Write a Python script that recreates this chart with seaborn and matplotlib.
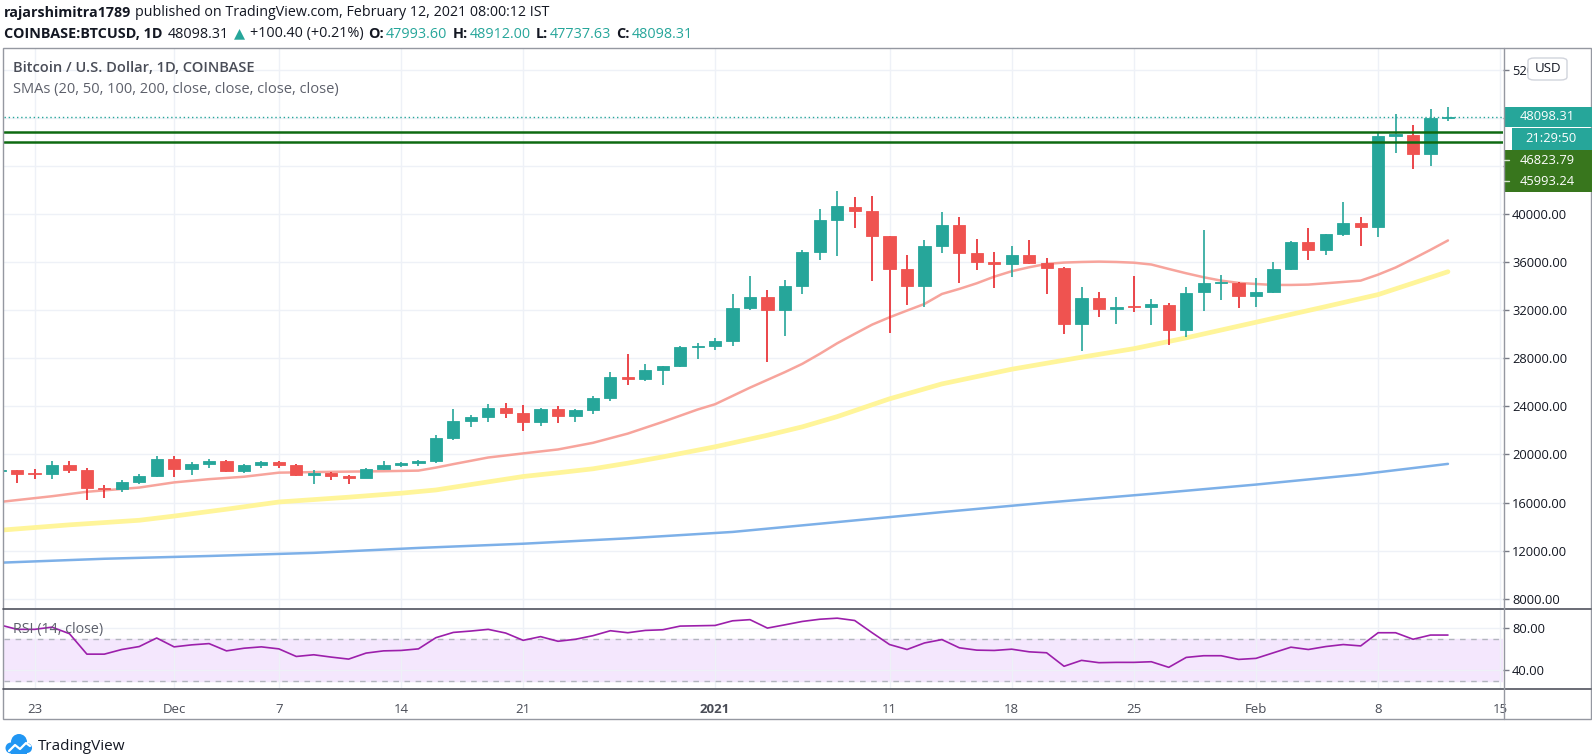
import numpy as np
import pandas as pd
import matplotlib
matplotlib.use("Agg")
import matplotlib.pyplot as plt
from matplotlib.patches import Rectangle, FancyBboxPatch, Circle
from matplotlib.lines import Line2D
from matplotlib.transforms import Affine2D
import seaborn as sns

W, H = 1592, 756

## DATA
dates = pd.date_range("2020-11-21", "2021-02-12", freq="D")

opens = [18650, 18685, 18410, 18370, 19150, 18690, 17190, 17130, 17720, 18190,
         19650, 18770, 19210, 19430, 18630, 19150, 19350, 19140, 18270, 18490,
         18240, 18030, 18770, 19130, 19270, 19430, 21340, 22780, 23110, 23840,
         23490, 22710, 23820, 23240, 23730, 24700, 26470, 26250, 27030, 27360,
         28910, 29020, 29410, 32200, 33090, 32010, 34020, 36820, 39470, 40610,
         40220, 38140, 35460, 34020, 37370, 39110, 36730, 36010, 35820, 36590,
         35900, 35490, 30830, 32990, 32090, 32290, 32250, 32470, 30370, 33480,
         34240, 34270, 33150, 33510, 35460, 37660, 37020, 38300, 39250, 38910,
         46500, 46570, 44950, 47993.60]
highs = [18830, 18750, 18760, 19430, 19500, 18880, 17470, 17900, 18350, 19850,
         19850, 19380, 19600, 19570, 19180, 19430, 19420, 19240, 18680, 18560,
         18290, 18910, 19430, 19350, 19570, 21590, 23780, 23310, 24170, 24290,
         24100, 23830, 24070, 23790, 24840, 26830, 28380, 27500, 27360, 29020,
         29300, 29710, 33310, 34830, 33640, 34470, 37010, 40420, 41940, 41440,
         41470, 38150, 36590, 37870, 40140, 39720, 37950, 36870, 37370, 37870,
         36340, 35620, 33910, 33490, 33130, 34850, 32940, 32560, 33960, 38690,
         34930, 34350, 34680, 36020, 37720, 38800, 38360, 41030, 39750, 46850,
         48300, 47400, 48710, 48912.00]
lows = [18350, 17600, 18000, 17970, 18490, 16200, 16400, 16880, 17520, 18170,
        18130, 18300, 18850, 18550, 18460, 18850, 18900, 18190, 17580, 17860,
        17550, 18010, 18690, 18950, 19060, 19300, 21230, 22280, 22730, 23070,
        21940, 22350, 22600, 22710, 23400, 24460, 25760, 26110, 25810, 27280,
        27970, 28710, 29050, 32030, 27660, 29880, 33350, 36200, 36540, 38810,
        34400, 30080, 32470, 32300, 36730, 34240, 35350, 33820, 34740, 35880,
        33350, 30000, 28640, 31410, 30890, 31880, 30800, 29110, 29780, 31950,
        32850, 32180, 32290, 33400, 35380, 36160, 36600, 38200, 37380, 38080,
        45100, 43730, 43980, 47737.63]
closes = [18690, 18410, 18370, 19120, 18690, 17190, 17110, 17690, 18190, 19650,
          18770, 19190, 19430, 18610, 19130, 19350, 19160, 18270, 18460, 18240,
          18030, 18770, 19100, 19270, 19430, 21340, 22780, 23110, 23840, 23490,
          22710, 23820, 23240, 23680, 24730, 26420, 26250, 27000, 27360, 28910,
          29020, 29410, 32200, 33090, 32010, 34020, 36820, 39470, 40690, 40220,
          38140, 35460, 34020, 37370, 39110, 36730, 36010, 35820, 36590, 35900,
          35490, 30830, 32990, 32080, 32260, 32250, 32490, 30370, 33460, 34270,
          34320, 33150, 33510, 35460, 37660, 37020, 38300, 39250, 38910, 46490,
          46630, 44950, 47998, 48098.31]

sma20_dates = ["2020-11-21", "2020-11-24", "2020-11-26", "2020-11-29", "2020-12-01",
               "2020-12-03", "2020-12-05", "2020-12-07", "2020-12-10", "2020-12-13",
               "2020-12-15", "2020-12-16", "2020-12-17", "2020-12-19", "2020-12-21",
               "2020-12-23", "2020-12-25", "2020-12-27", "2020-12-29", "2020-12-31",
               "2021-01-01", "2021-01-03", "2021-01-05", "2021-01-06", "2021-01-07",
               "2021-01-08", "2021-01-09", "2021-01-10", "2021-01-11", "2021-01-12",
               "2021-01-13", "2021-01-14", "2021-01-15", "2021-01-16", "2021-01-17",
               "2021-01-18", "2021-01-19", "2021-01-20", "2021-01-21", "2021-01-22",
               "2021-01-23", "2021-01-24", "2021-01-25", "2021-01-26", "2021-01-27",
               "2021-01-28", "2021-01-29", "2021-01-30", "2021-01-31", "2021-02-01",
               "2021-02-02", "2021-02-03", "2021-02-04", "2021-02-05", "2021-02-06",
               "2021-02-07", "2021-02-08", "2021-02-09", "2021-02-10", "2021-02-11",
               "2021-02-12"]
sma20 = [16050, 16530, 16900, 17250, 17680, 17950, 18150, 18490, 18560, 18610,
         18660, 18910, 19200, 19750, 20090, 20420, 20970, 21740, 22710, 23740,
         24180, 25560, 26850, 27540, 28370, 29250, 30030, 30800, 31410, 31970,
         32520, 33350, 33770, 34240, 34790, 35240, 35570, 35850, 35960, 36010,
         36040, 36010, 35950, 35800, 35430, 35070, 34740, 34460, 34270, 34180,
         34100, 34100, 34130, 34240, 34350, 34460, 34960, 35550, 36270, 37020,
         37800]

sma50_dates = ["2020-11-21", "2020-11-25", "2020-11-29", "2020-12-01", "2020-12-04",
               "2020-12-07", "2020-12-11", "2020-12-14", "2020-12-16", "2020-12-18",
               "2020-12-21", "2020-12-23", "2020-12-25", "2020-12-27", "2020-12-29",
               "2021-01-01", "2021-01-04", "2021-01-06", "2021-01-08", "2021-01-11",
               "2021-01-14", "2021-01-18", "2021-01-22", "2021-01-25", "2021-01-28",
               "2021-02-01", "2021-02-05", "2021-02-08", "2021-02-12"]
sma50 = [13700, 14150, 14530, 14880, 15450, 16050, 16450, 16780, 17050, 17500,
         18170, 18480, 18810, 19280, 19800, 20640, 21600, 22300, 23150, 24630,
         25870, 27090, 28090, 28800, 29700, 31000, 32300, 33300, 35200]

sma200_dates = ["2020-11-21", "2020-11-27", "2020-12-03", "2020-12-09", "2020-12-15",
                "2020-12-21", "2020-12-27", "2021-01-02", "2021-01-08", "2021-01-14",
                "2021-01-20", "2021-01-26", "2021-02-01", "2021-02-07", "2021-02-12"]
sma200 = [11000, 11330, 11560, 11820, 12230, 12580, 13030, 13560, 14380, 15210,
          16000, 16730, 17500, 18350, 19220]

rsi = [83.1, 78.8, 78.8, 80.9, 74.7, 55.3, 55.3, 59.7, 62.5, 70.6,
       62.2, 64.1, 65.3, 58.4, 60.9, 62.2, 60.3, 53.1, 54.7, 52.5,
       50.6, 56.3, 58.4, 58.8, 60.3, 70.9, 75.9, 77.2, 78.8, 75.3,
       68.4, 71.9, 67.5, 69.4, 72.8, 77.5, 75.6, 77.8, 78.4, 81.9,
       82.2, 82.5, 86.9, 88.0, 80.0, 83.1, 86.3, 88.4, 89.4, 87.2,
       75.6, 64.4, 59.7, 65.9, 69.1, 61.3, 59.1, 58.8, 60.0, 57.5,
       56.6, 43.8, 49.4, 47.2, 47.5, 47.5, 48.1, 42.8, 52.2, 53.8,
       53.8, 50.3, 51.3, 56.6, 61.9, 59.7, 62.5, 64.4, 63.1, 75.6,
       75.6, 69.4, 73.4, 73.4]

level_lines = [46823.79, 45993.24]
last_price = 48098.31

tick_dates = ["2020-11-23", "2020-12-01", "2020-12-07", "2020-12-14", "2020-12-21",
              "2021-01-01", "2021-01-11", "2021-01-18", "2021-01-25", "2021-02-01",
              "2021-02-08", "2021-02-15"]
tick_labels = ["23", "Dec", "7", "14", "21", "2021", "11", "18", "25", "Feb", "8", "15"]
price_ticks = list(range(8000, 52001, 4000))
hidden_price_ticks = [44000, 48000]

## STYLE
sns.set_style("white")
plt.rcParams["font.family"] = ["Open Sans", "DejaVu Sans"]

GREEN = "#26a69a"
RED = "#ef5350"
TXT = "#131722"
GRID = "#eef1f7"
AXR = 1503  # x of the price scale border, in pixels
LBL = 9.3

df = pd.DataFrame({"date": dates, "open": opens, "high": highs, "low": lows, "close": closes})
df["up"] = df["close"] >= df["open"]

fig = plt.figure(figsize=(W / 100, H / 100), dpi=100)
ax = fig.add_axes([4 / W, 1 - 608 / H, (AXR - 4) / W, (608 - 49) / H])
ax2 = fig.add_axes([4 / W, 1 - 688 / H, (AXR - 4) / W, (688 - 609) / H], sharex=ax)

for a in (ax, ax2):
    for s in a.spines.values():
        s.set_visible(False)
    a.set_axisbelow(True)
    a.grid(True, color=GRID, lw=1)

# candles
body_lo = df[["open", "close"]].min(axis=1)
body_h = (df["close"] - df["open"]).abs().clip(lower=60)
colors = np.where(df["up"], GREEN, RED)
wick_colors = np.where(df["up"], GREEN, "#e8262b")
ax.vlines(df["date"], df["low"], df["high"], colors=wick_colors, lw=1.2, zorder=3)
ax.bar(df["date"], body_h, bottom=body_lo, width=0.7, color=colors,
       edgecolor=colors, lw=0.6, zorder=4)

# moving averages
sns.lineplot(x=pd.to_datetime(sma200_dates), y=sma200, ax=ax, color="#7db0e8", lw=1.8, zorder=2)
sns.lineplot(x=pd.to_datetime(sma50_dates), y=sma50, ax=ax, color="#fff59a", lw=3.4, zorder=2)
sns.lineplot(x=pd.to_datetime(sma20_dates), y=sma20, ax=ax, color="#f7a49c", lw=1.8, zorder=2)

for lv in level_lines:
    ax.axhline(lv, color="#0f6a12", lw=1.8, zorder=5)
ax.axhline(last_price, color=GREEN, lw=1, ls=(0, (1, 2)), zorder=1)

x0 = pd.Timestamp("2020-11-23")
ax.set_xlim(x0 - pd.Timedelta(days=1.75), x0 + pd.Timedelta(days=(AXR - 34.5) / 17.45))
ax.set_ylim(7235, 53721)
ax.set_yticks(price_ticks)
ax.set_yticklabels(["" if p in hidden_price_ticks else f"{p:.2f}" for p in price_ticks])
ax.yaxis.tick_right()
ax.tick_params(axis="y", length=4, width=1, color="#787b86", pad=2.5, labelsize=LBL, labelcolor=TXT)
ax.tick_params(axis="x", length=0, labelbottom=False)
ax.set_xlabel("")
ax.set_ylabel("")

# RSI pane
ax2.axhspan(30, 70, color="#f4e7fd", zorder=0)
for lv in (70, 30):
    ax2.axhline(lv, color="#b2b5be", lw=1, ls=(0, (4, 4)), zorder=1)
sns.lineplot(x=df["date"], y=rsi, ax=ax2, color="#9c1fab", lw=1.2, zorder=3)
ax2.set_ylim(23.2, 98.1)
ax2.set_yticks([80, 40])
ax2.set_yticklabels(["80.00", "40.00"])
ax2.yaxis.tick_right()
ax2.tick_params(axis="y", length=4, width=1, color="#787b86", pad=2.5, labelsize=LBL, labelcolor=TXT)
ax2.set_xticks(pd.to_datetime(tick_dates))
ax2.set_xticklabels(tick_labels)
ax2.tick_params(axis="x", length=4, width=1, color="#787b86", pad=7, labelsize=9.5, labelcolor="#4a4d57")
for lab in ax2.get_xticklabels():
    if lab.get_text() == "2021":
        lab.set_fontweight("bold")
ax2.set_xlabel("")
ax2.set_ylabel("")

# frame lines (pixel coords)
def fx(x):
    return x / W

def fy(y):
    return 1 - y / H

fig.add_artist(Rectangle((fx(3), fy(719)), fx(1591) - fx(3), fy(48) - fy(719),
                         transform=fig.transFigure, fill=False, ec="#9598a1", lw=1))
for yy in (608.5, 688.5):
    fig.add_artist(Line2D([fx(3), fx(1591)], [fy(yy), fy(yy)], transform=fig.transFigure,
                          color="#50535e", lw=1.2))
fig.add_artist(Line2D([fx(AXR + 0.5), fx(AXR + 0.5)], [fy(48), fy(719)], transform=fig.transFigure,
                      color="#9598a1", lw=1))

# pane titles
fig.text(fx(13), fy(68), "Bitcoin / U.S. Dollar, 1D, COINBASE", fontsize=10.5, fontweight="semibold",
         color="#4a4d57", va="center")
fig.text(fx(13), fy(90), "SMAs (20, 50, 100, 200, close, close, close, close)", fontsize=10.5,
         color="#5d606b", va="center")
fig.text(fx(13), fy(630), "RSI (14, close)", fontsize=10.3, color="#5d606b", va="center")

# price labels on the axis
fig.canvas.draw()
y_last = ax.transData.transform((0, last_price))[1] / H
xc = (AXR + 1592) / 2
fig.add_artist(Rectangle((fx(AXR + 1), y_last - 10 / H), fx(1592) - fx(AXR + 1), 20 / H,
                         transform=fig.transFigure, color=GREEN, lw=0))
fig.text(fx(xc), y_last, f"{last_price:.2f}", fontsize=LBL, color="white", ha="center", va="center")
y_tm = y_last - 22 / H
fig.add_artist(Rectangle((fx(AXR + 9), y_tm - 11 / H), fx(1592) - fx(AXR + 9), 22 / H,
                         transform=fig.transFigure, color=GREEN, lw=0))
fig.text(fx(xc + 3), y_tm, "21:29:50", fontsize=LBL, color="white", ha="center", va="center")
y_g = y_tm - 11 / H
fig.add_artist(Rectangle((fx(AXR + 1), y_g - 42 / H), fx(1592) - fx(AXR + 1), 42 / H,
                         transform=fig.transFigure, color="#38761d", lw=0))
for i, lv in enumerate(level_lines):
    yy = y_g - (10.5 + 21 * i) / H
    fig.text(fx(xc), yy, f"{lv:.2f}", fontsize=LBL, color="white", ha="center", va="center")
    fig.add_artist(Line2D([fx(AXR + 1), fx(AXR + 6)], [yy, yy], transform=fig.transFigure,
                          color="#d8e6d0", lw=1))

# USD button
fig.add_artist(FancyBboxPatch((fx(1528), fy(80)), fx(1567) - fx(1528), fy(58) - fy(80),
                              boxstyle="round,pad=0,rounding_size=0.004",
                              transform=fig.transFigure, fc="white", ec="#d1d4dc", lw=1))
fig.text(fx(1547.5), fy(69), "USD", fontsize=9.5, color=TXT, ha="center", va="center")

# header lines built from pieces
renderer = fig.canvas.get_renderer()

def draw_pieces(x, y, pieces, size):
    for txt, weight, color, gap in pieces:
        t = fig.text(fx(x), fy(y), txt, fontsize=size, fontweight=weight, color=color,
                     ha="left", va="center")
        x += t.get_window_extent(renderer=renderer).width + gap

draw_pieces(4, 13, [("rajarshimitra1789", "bold", TXT, 4),
                    ("published on TradingView.com, February 12, 2021 08:00:12 IST", "normal", TXT, 0)], 10.3)
draw_pieces(4, 34, [("COINBASE:BTCUSD, 1D", "bold", TXT, 5),
                    ("48098.31", "normal", TXT, 5),
                    ("\u25B2", "normal", GREEN, 5),
                    ("+100.40 (+0.21%)", "normal", TXT, 5),
                    ("O:", "bold", TXT, 2), ("47993.60", "normal", GREEN, 5),
                    ("H:", "bold", TXT, 2), ("48912.00", "normal", GREEN, 5),
                    ("L:", "bold", TXT, 2), ("47737.63", "normal", GREEN, 5),
                    ("C:", "bold", TXT, 2), ("48098.31", "normal", GREEN, 0)], 10.4)

# footer logo: small blue cloud with a white zig-zag, then the word mark
pix = Affine2D().scale(1 / W, -1 / H).translate(0, 1) + fig.transFigure
for cx, cy, r in [(11, 748, 5.5), (19, 742, 8), (27, 748, 5)]:
    fig.add_artist(Circle((cx, cy), r, transform=pix, color="#2196f3", lw=0))
fig.add_artist(Rectangle((11, 748), 16, 5.5, transform=pix, color="#2196f3", lw=0))
fig.add_artist(Line2D([9, 15, 20, 26, 30], [751, 745, 749, 743, 746], transform=pix,
                      color="white", lw=1.6))
fig.text(fx(38), fy(747), "TradingView", fontsize=11, color=TXT, ha="left", va="center")

fig.savefig("out.png", dpi=100, facecolor="white")
